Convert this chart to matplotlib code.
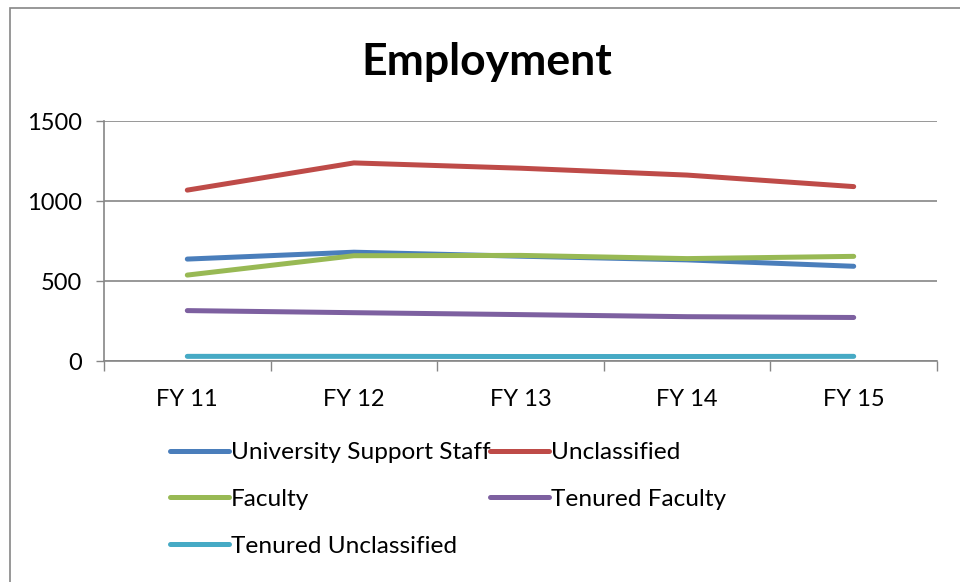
import matplotlib
matplotlib.use("Agg")
import matplotlib.pyplot as plt
from matplotlib.patches import Rectangle
from matplotlib.ticker import FixedLocator

categories = ["FY 11", "FY 12", "FY 13", "FY 14", "FY 15"]
support_staff = [637, 680, 655, 632, 592]
unclassified = [1068, 1238, 1205, 1162, 1090]
faculty = [537, 658, 660, 640, 654]
tenured_faculty = [315, 302, 290, 277, 272]
tenured_unclassified = [29, 29, 28, 28, 29]
y_ticks = [0, 500, 1000, 1500]

series = [
    ("University Support Staff", support_staff, "#4A7EBB"),
    ("Unclassified", unclassified, "#BE4B48"),
    ("Faculty", faculty, "#98B954"),
    ("Tenured Faculty", tenured_faculty, "#7D60A0"),
    ("Tenured Unclassified", tenured_unclassified, "#46AAC5"),
]

plt.rcParams['font.family'] = ['Lato', 'DejaVu Sans']

fig = plt.figure(figsize=(9.6, 5.82), dpi=100)
W, H = 960, 582
ax = fig.add_axes([104 / W, 1 - 361 / H, (937 - 104) / W, (361 - 121) / H])

x = list(range(len(categories)))
handles = {}
for name, vals, col in series:
    h, = ax.plot(x, vals, color=col, lw=3.6, solid_capstyle='round', label=name, zorder=3)
    handles[name] = h

ax.set_xlim(-0.5, len(categories) - 0.5)
ax.set_ylim(0, 1500)
ax.set_yticks(y_ticks)
ax.set_yticklabels([str(v) for v in y_ticks], fontsize=17)
ax.set_xticks(x)
ax.set_xticklabels(categories, fontsize=17)
ax.xaxis.set_minor_locator(FixedLocator([i - 0.5 for i in range(len(categories) + 1)]))
ax.tick_params(axis='x', which='major', length=0, pad=20)
ax.tick_params(axis='x', which='minor', length=7, color='#868686', width=1)
ax.tick_params(axis='y', which='major', length=6, color='#868686', width=1, pad=10)
ax.yaxis.grid(True, color='#868686', lw=1.2)
ax.set_axisbelow(True)
for s in ['top', 'right']:
    ax.spines[s].set_visible(False)
ax.spines['left'].set_color('#868686')
ax.spines['bottom'].set_color('#868686')
ax.spines['left'].set_linewidth(1.2)
ax.spines['bottom'].set_linewidth(1.2)

fig.text(487 / W, 1 - 62 / H, "Employment", ha='center', va='center',
         fontsize=32, fontweight='bold')

# outer chart border
fig.patches.append(Rectangle((10 / W, -0.1), 1.2, 1 - 8 / H + 0.1, transform=fig.transFigure,
                             fill=False, edgecolor='#868686', lw=1.2))

order = ["University Support Staff", "Faculty", "Tenured Unclassified",
         "Unclassified", "Tenured Faculty"]
leg = fig.legend([handles[n] for n in order], order, ncol=2,
                 loc='upper left', bbox_to_anchor=(170 / W, 1 - 442 / H),
                 frameon=False, fontsize=17.6, handlelength=2.4, handletextpad=0.08,
                 columnspacing=0.0, labelspacing=1.05, borderaxespad=0, borderpad=0)

fig.savefig("out.png", dpi=100)
